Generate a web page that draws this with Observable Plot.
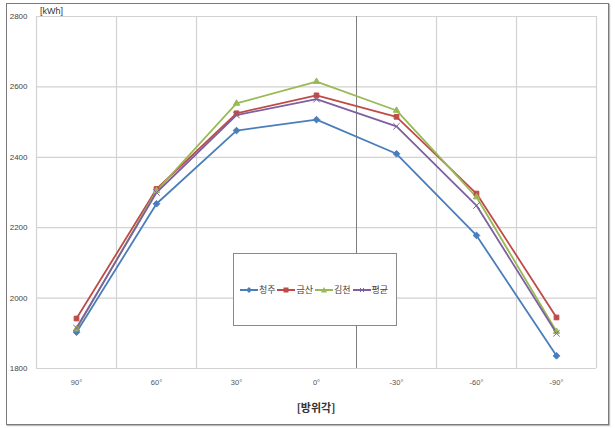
<!DOCTYPE html>
<html><head><meta charset="utf-8">
<script src="https://cdn.jsdelivr.net/npm/d3@7"></script>
<script src="https://cdn.jsdelivr.net/npm/@observablehq/plot@0.6"></script>
<style>
body{margin:0;background:#fff;font-family:"Liberation Sans","Noto Sans CJK KR",sans-serif;}
#wrap{position:relative;width:615px;height:428px;overflow:hidden;}
#frame{position:absolute;left:6px;top:3px;width:601px;height:420px;border:1px solid #7a7a7a;box-shadow:1px 1px 1px #bbb;}
#ylab{position:absolute;left:40px;top:6px;font-size:9px;color:#333;}
#xlab{position:absolute;left:0;width:632px;top:399px;text-align:center;font-size:11px;font-weight:bold;color:#333;font-family:"Noto Sans CJK KR",sans-serif;}
#legend{position:absolute;left:233px;top:253px;width:162px;height:71px;border:1px solid #8a8a8a;background:#fff;display:flex;align-items:center;justify-content:center;font-size:9px;color:#444;font-family:"Noto Sans CJK KR",sans-serif;}
#legend .it{display:flex;align-items:center;margin-right:2px;}
#legend svg{margin-right:1px;}
svg.plot{position:absolute;left:0;top:0;}
</style></head><body>
<div id="wrap"><div id="frame"></div></div>
<script>
const angles = ["90°","60°","30°","0°","-30°","-60°","-90°"];
const cheongju = [1903,2268,2476,2507,2410,2178,1836];
const geumsan  = [1942,2310,2525,2576,2515,2297,1945];
const gimcheon = [1912,2305,2553,2615,2533,2287,1905];
const average  = [1915,2300,2520,2565,2488,2263,1900];
const seriesNames = ["청주","금산","김천","평균"];
const colors = ["#4A7EBB","#BE4B48","#98B954","#7D60A0"];
const symbols = ["diamond2","square2","triangle2","times"];
const yTicks = [1800,2000,2200,2400,2600,2800];

const allSeries = [cheongju, geumsan, gimcheon, average];
const rows = [];
allSeries.forEach((vals, s) => vals.forEach((v, i) => rows.push({series: seriesNames[s], i, angle: angles[i], value: v})));

const lightGrid = d3.range(-0.5, angles.length, 1).filter(b => b !== 2.5 && b !== 3.5);
const darkGrid = [3.5];

const plot = Plot.plot({
  width: 615, height: 428,
  marginLeft: 36, marginRight: 19, marginTop: 16, marginBottom: 60,
  style: {fontFamily: '"Liberation Sans","Noto Sans CJK KR",sans-serif', background: "transparent", overflow: "visible"},
  x: {domain: [-0.5, angles.length - 0.5], axis: null},
  y: {domain: [1800, 2800], axis: null},
  color: {domain: seriesNames, range: colors},
  symbol: {domain: seriesNames, range: symbols},
  marks: [
    Plot.ruleY(yTicks, {stroke: "#d2d2d2", strokeWidth: 1.2}),
    Plot.ruleX(lightGrid, {stroke: "#d2d2d2", strokeWidth: 1.2}),
    Plot.ruleX(darkGrid, {stroke: "#7d7d7d", strokeWidth: 1}),
    Plot.axisY(yTicks, {label: null, tickSize: 0, tickPadding: 9, fontSize: 8, fill: "#444", tickFormat: d => String(d)}),
    Plot.axisX(d3.range(angles.length), {label: null, tickSize: 0, tickPadding: 11, fontSize: 7.5, fill: "#555", tickFormat: i => angles[i]}),
    Plot.line(rows, {x: "i", y: "value", z: "series", stroke: "series", strokeWidth: 1.8}),
    Plot.dot(rows, {x: "i", y: "value", symbol: "series", fill: "series", stroke: "series", r: 3, strokeWidth: 1})
  ]
});
plot.classList.add("plot");
const wrap = document.getElementById("wrap");
wrap.appendChild(plot);

const yl = document.createElement("div"); yl.id = "ylab"; yl.textContent = "[kWh]"; wrap.appendChild(yl);
const xl = document.createElement("div"); xl.id = "xlab"; xl.textContent = "[방위각]"; wrap.appendChild(xl);

const lg = document.createElement("div"); lg.id = "legend";
const shapes = [
  c => `<path d="M9 2 L12 5 L9 8 L6 5Z" fill="${c}"/>`,
  c => `<rect x="6.5" y="2.5" width="5" height="5" fill="${c}"/>`,
  c => `<path d="M9 2 L12 7.5 L6 7.5Z" fill="${c}"/>`,
  c => `<path d="M7 3 L11 7 M11 3 L7 7" stroke="${c}" stroke-width="1"/>`
];
seriesNames.forEach((n, k) => {
  const it = document.createElement("div"); it.className = "it";
  it.innerHTML = `<svg width="18" height="10"><line x1="0" y1="5" x2="18" y2="5" stroke="${colors[k]}" stroke-width="2"/>${shapes[k](colors[k])}</svg><span>${n}</span>`;
  lg.appendChild(it);
});
wrap.appendChild(lg);
</script>
</body></html>
